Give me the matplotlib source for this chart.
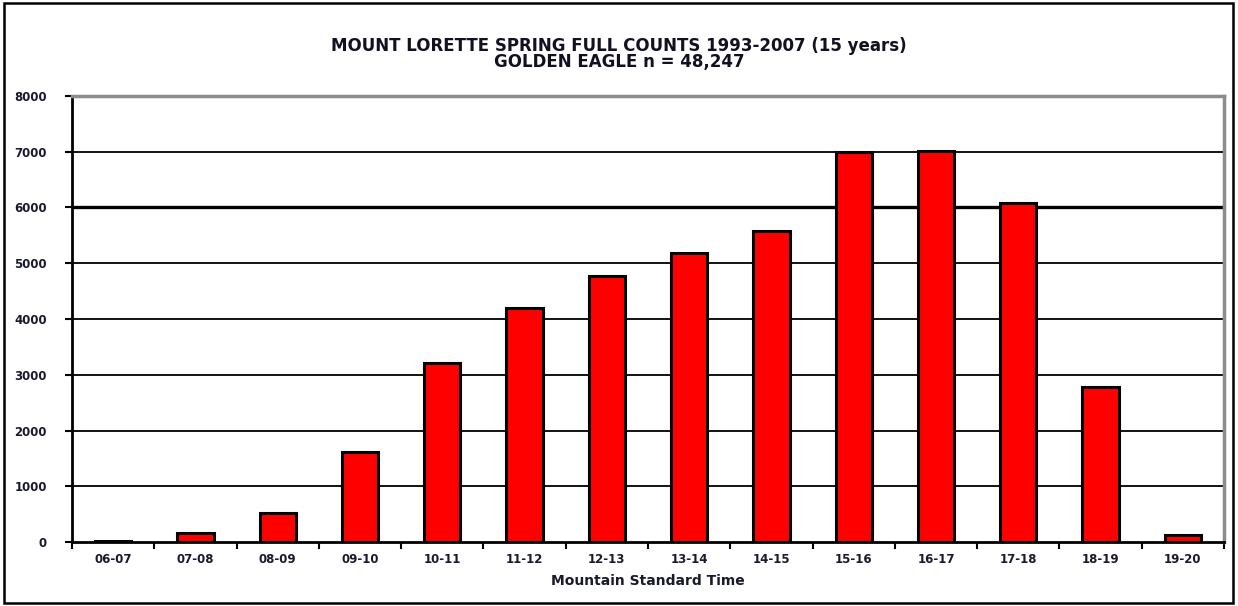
import numpy as np
import matplotlib.pyplot as plt
from matplotlib.patches import Rectangle

# hourly golden eagle totals
hours = ["06-07", "07-08", "08-09", "09-10", "10-11", "11-12", "12-13",
         "13-14", "14-15", "15-16", "16-17", "17-18", "18-19", "19-20"]
counts = [20, 160, 520, 1615, 3210, 4200, 4770, 5180, 5580, 6990, 7010, 6080, 2780, 125]
yticks = [0, 1000, 2000, 3000, 4000, 5000, 6000, 7000, 8000]

plt.rcParams['font.family'] = ['DejaVu Sans']
plt.rcParams['font.weight'] = 'bold'

fig = plt.figure(figsize=(12.38, 6.06), dpi=100)
ax = fig.add_axes([72 / 1238, 1 - 542 / 606, (1224 - 72) / 1238, (542 - 96) / 606])

# outer frame
fig.patches.append(Rectangle((4 / 1238, 3 / 606), 1229 / 1238, 600 / 606,
                             transform=fig.transFigure, fill=False,
                             edgecolor='black', linewidth=1.8))

x = np.arange(len(hours))
for y in yticks[1:-1]:
    ax.axhline(y, color='black', linewidth=2.4 if y == 6000 else 1.3, zorder=1)
ax.bar(x, counts, width=0.44, color='#ff0000', edgecolor='black', linewidth=2.2, zorder=3)

ax.set_xlim(-0.5, len(hours) - 0.5)
ax.set_ylim(0, 8000)
ax.set_yticks(yticks)
ax.set_yticklabels([str(v) for v in yticks], fontsize=8.5, color='#1a1a2e')
ax.set_xticks(x)
ax.set_xticklabels(hours, fontsize=8.5, color='#1a1a2e')
ax.set_xticks(np.arange(-0.5, len(hours)), minor=True)
ax.tick_params(axis='x', which='major', length=0, pad=8)
ax.tick_params(axis='x', which='minor', length=5, width=1.5, direction='out')
ax.tick_params(axis='y', length=5, width=1.5, direction='out', pad=13)

for s in ['left', 'bottom']:
    ax.spines[s].set_linewidth(2)
    ax.spines[s].set_color('black')
for s in ['top', 'right']:
    ax.spines[s].set_linewidth(2.5)
    ax.spines[s].set_color('#8c8c8c')

ax.set_xlabel("Mountain Standard Time", fontsize=10, fontweight='bold',
              labelpad=6, color='#1a1a2e')
fig.text(0.5, 1 - 46 / 606, "MOUNT LORETTE SPRING FULL COUNTS 1993-2007 (15 years)",
         ha='center', va='center', fontsize=12, color='#111122')
fig.text(0.5, 1 - 62 / 606, "GOLDEN EAGLE n = 48,247",
         ha='center', va='center', fontsize=12, color='#111122')

plt.savefig("out.png", dpi=100)
